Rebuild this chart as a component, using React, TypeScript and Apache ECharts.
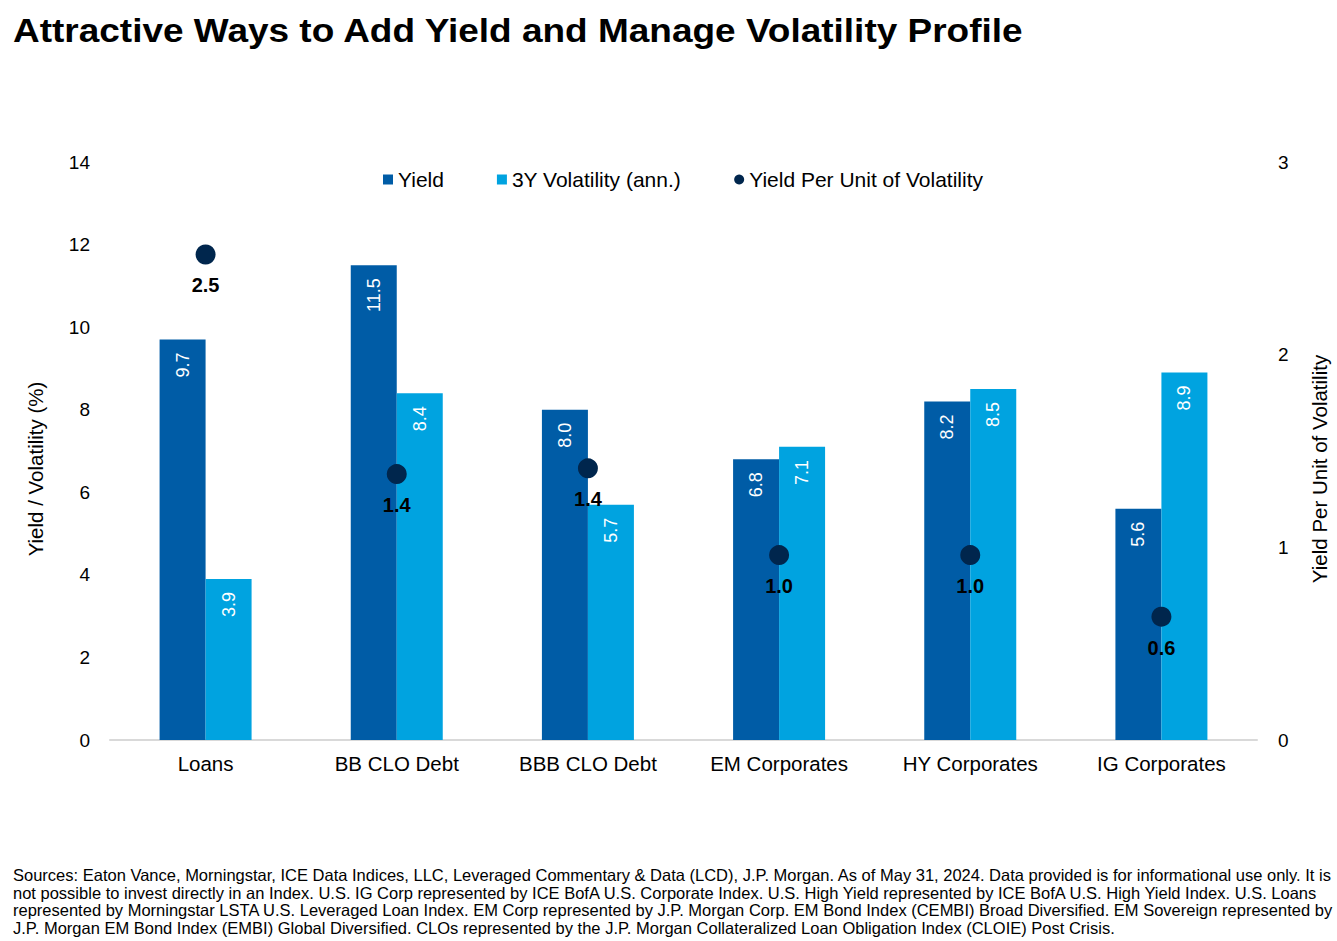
import React, { useEffect, useRef } from "react";
import * as echarts from "echarts";

const categories = ["Loans", "BB CLO Debt", "BBB CLO Debt", "EM Corporates", "HY Corporates", "IG Corporates"];
const yieldValues = [9.7, 11.5, 8.0, 6.8, 8.2, 5.6];
const volatilityValues = [3.9, 8.4, 5.7, 7.1, 8.5, 8.9];
const yieldPerVol = [2.52, 1.38, 1.41, 0.96, 0.96, 0.64];
const leftTicks = { min: 0, max: 14, interval: 2 };
const rightTicks = { min: 0, max: 3, interval: 1 };

const titleText = "Attractive Ways to Add Yield and Manage Volatility Profile";
const leftAxisName = "Yield / Volatility (%)";
const rightAxisName = "Yield Per Unit of Volatility";
const footnoteLines = [
  "Sources: Eaton Vance, Morningstar, ICE Data Indices, LLC, Leveraged Commentary & Data (LCD), J.P. Morgan. As of May 31, 2024. Data provided is for informational use only. It is",
  "not possible to invest directly in an Index. U.S. IG Corp represented by ICE BofA U.S. Corporate Index. U.S. High Yield represented by ICE BofA U.S. High Yield Index. U.S. Loans",
  "represented by Morningstar LSTA U.S. Leveraged Loan Index. EM Corp represented by J.P. Morgan Corp. EM Bond Index (CEMBI) Broad Diversified. EM Sovereign represented by",
  "J.P. Morgan EM Bond Index (EMBI) Global Diversified. CLOs represented by the J.P. Morgan Collateralized Loan Obligation Index (CLOIE) Post Crisis.",
];

const FONT = "Liberation Sans, Arial, sans-serif";
const DARK = "#005CA6";
const LIGHT = "#00A3E0";
const NAVY = "#00264D";

export default function App() {
  const ref = useRef<HTMLDivElement>(null);
  useEffect(() => {
    if (!ref.current) return;
    const chart = echarts.init(ref.current, undefined, { renderer: "svg" });
    const barLabel = {
      show: true,
      position: "insideTop",
      rotate: 90,
      align: "right",
      verticalAlign: "middle",
      distance: 13,
      color: "#ffffff",
      fontSize: 18,
      fontFamily: FONT,
      formatter: (p: any) => Number(p.value).toFixed(1),
    };
    const footGraphics = footnoteLines.map((line, i) => ({
      type: "text",
      x: 13,
      y: 875 + i * 17.5,
      style: {
        text: line,
        font: `16.5px ${FONT}`,
        fill: "#000",
        textAlign: "left",
        textVerticalAlign: "middle",
      },
    }));
    chart.setOption({
      animation: false,
      textStyle: { fontFamily: FONT },
      graphic: [
        {
          type: "text",
          x: 13,
          y: 31,
          scaleX: 1.088,
          style: {
            text: titleText,
            font: `bold 34px ${FONT}`,
            fill: "#000",
            textAlign: "left",
            textVerticalAlign: "middle",
          },
        },
        {
          type: "text",
          x: 35,
          y: 469,
          rotation: Math.PI / 2,
          style: {
            text: leftAxisName,
            font: `20.5px ${FONT}`,
            fill: "#000",
            textAlign: "center",
            textVerticalAlign: "middle",
          },
        },
        {
          type: "text",
          x: 1319,
          y: 469,
          rotation: Math.PI / 2,
          style: {
            text: rightAxisName,
            font: `20.5px ${FONT}`,
            fill: "#000",
            textAlign: "center",
            textVerticalAlign: "middle",
          },
        },
        ...footGraphics,
      ],
      legend: {
        top: 169,
        left: 383,
        padding: 0,
        itemWidth: 10,
        itemHeight: 10,
        itemGap: 53,
        itemStyle: { opacity: 1 },
        textStyle: { fontSize: 21, color: "#000", fontFamily: FONT, padding: [0, 0, 0, 0] },
        data: [
          { name: "Yield", icon: "rect" },
          { name: "3Y Volatility (ann.)", icon: "rect" },
          { name: "Yield Per Unit of Volatility", icon: "circle" },
        ],
      },
      grid: { left: 110, right: 80, top: 162, bottom: 201 },
      xAxis: {
        type: "category",
        data: categories,
        axisLine: { lineStyle: { color: "#d9d9d9", width: 2 } },
        axisTick: { show: false },
        axisLabel: { fontSize: 20.5, color: "#000", margin: 13, fontFamily: FONT },
      },
      yAxis: [
        {
          type: "value",
          ...leftTicks,
          splitLine: { show: false },
          axisLine: { show: false },
          axisTick: { show: false },
          axisLabel: { fontSize: 19, color: "#000", margin: 20, fontFamily: FONT },
        },
        {
          type: "value",
          ...rightTicks,
          splitLine: { show: false },
          axisLine: { show: false },
          axisTick: { show: false },
          axisLabel: { fontSize: 19, color: "#000", margin: 21, fontFamily: FONT },
        },
      ],
      series: [
        {
          name: "Yield",
          type: "bar",
          data: yieldValues,
          barWidth: 46,
          barGap: "0%",
          itemStyle: { color: DARK },
          label: barLabel,
        },
        {
          name: "3Y Volatility (ann.)",
          type: "bar",
          data: volatilityValues,
          barWidth: 46,
          barGap: "0%",
          itemStyle: { color: LIGHT },
          label: barLabel,
        },
        {
          name: "Yield Per Unit of Volatility",
          type: "scatter",
          yAxisIndex: 1,
          data: yieldPerVol,
          symbolSize: 20,
          itemStyle: { color: NAVY, opacity: 1 },
          z: 5,
          label: {
            show: true,
            position: "bottom",
            distance: 11,
            color: "#000",
            fontSize: 20,
            fontWeight: "bold",
            fontFamily: FONT,
            formatter: (p: any) => Number(p.value).toFixed(1),
          },
        },
      ],
    });
    return () => chart.dispose();
  }, []);
  return (
    <div
      ref={ref}
      style={{ position: "fixed", left: 0, top: 0, width: 1337, height: 941, background: "#fff" }}
    />
  );
}
